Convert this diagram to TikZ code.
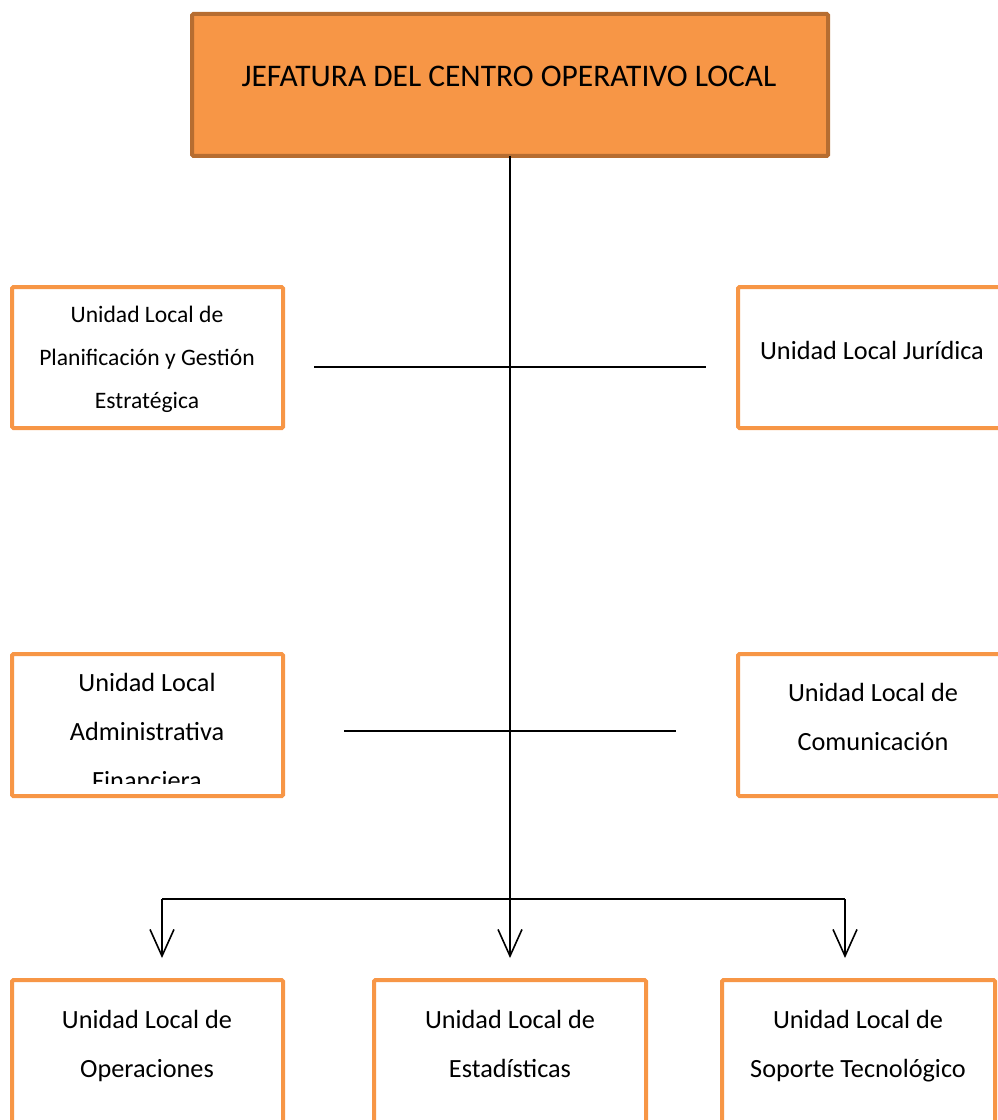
\documentclass[tikz,border=0pt]{standalone}
\usepackage{fontspec}
\setmainfont{Carlito}
\usetikzlibrary{arrows.meta}
\definecolor{boxorange}{HTML}{F79646}
\definecolor{boxedge}{HTML}{B66D31}
\begin{document}
\begin{tikzpicture}[x=0.75pt,y=-0.75pt,
  headbox/.style={draw=boxedge,fill=boxorange,line width=3pt,rounded corners=1pt},
  unitbox/.style={draw=boxorange,fill=white,line width=3pt,rounded corners=1pt},
  unittext/.style={anchor=base,align=center,inner sep=0pt,
    font=\fontsize{19.7}{36.75}\selectfont},
  smalltext/.style={anchor=base,align=center,inner sep=0pt,
    font=\fontsize{17.7}{32.25}\selectfont},
  link/.style={line width=1.2pt,draw=black},
  down/.style={link,-{Straight Barb[length=20pt,width=18pt,line width=1.2pt]}}]
\useasboundingbox (0,0) rectangle (998,1120);
\clip (0,0) rectangle (998,1120);

% head office
\draw[headbox] (192,14) rectangle (828,156);
\node[anchor=base,inner sep=0pt,font=\fontsize{23.6}{28}\selectfont] (head) at (509,87)
  {JEFATURA DEL CENTRO OPERATIVO LOCAL};
\coordinate (headS) at (510,156);

% staff units, upper row (text anchored on its last baseline)
\draw[unitbox] (12,287) rectangle (283,428);
\node[smalltext] (pge) at (147,408)
  {Unidad Local de\\Planificación y Gestión\\Estratégica};
\draw[unitbox] (738,287) rectangle (1010,428);
\node[unittext] (jur) at (872,359) {Unidad Local Jurídica};

% staff units, lower row
\draw[unitbox] (12,654) rectangle (283,796);
\begin{scope}
  \clip (14,656) rectangle (281,783);
  \node[unittext] (adm) at (147,789)
    {Unidad Local\\Administrativa\\Financiera};
\end{scope}
\draw[unitbox] (738,654) rectangle (1010,796);
\node[unittext] (com) at (873,750) {Unidad Local de\\Comunicación};

% line units
\draw[unitbox] (12,980) rectangle (283,1130);
\node[unittext] (ope) at (147,1077) {Unidad Local de\\Operaciones};
\draw[unitbox] (374,980) rectangle (646,1130);
\node[unittext] (est) at (510,1077) {Unidad Local de\\Estadísticas};
\draw[unitbox] (722,980) rectangle (995,1130);
\node[unittext] (sop) at (858,1077) {Unidad Local de\\Soporte Tecnológico};

% connectors
\coordinate (upL) at (314,367);
\coordinate (upR) at (706,367);
\coordinate (loL) at (344,731);
\coordinate (loR) at (676,731);
\coordinate (barL) at (162,899);
\coordinate (barR) at (845,899);
\coordinate (tipL) at (162,958);
\coordinate (tipM) at (510,958);
\coordinate (tipR) at (845,958);

\draw[down] (headS) -- (tipM);
\draw[link] (upL) -- (upR);
\draw[link] (loL) -- (loR);
\draw[link] (barL) -- (barR);
\draw[down] (barL) -- (tipL);
\draw[down] (barR) -- (tipR);
\end{tikzpicture}
\end{document}
